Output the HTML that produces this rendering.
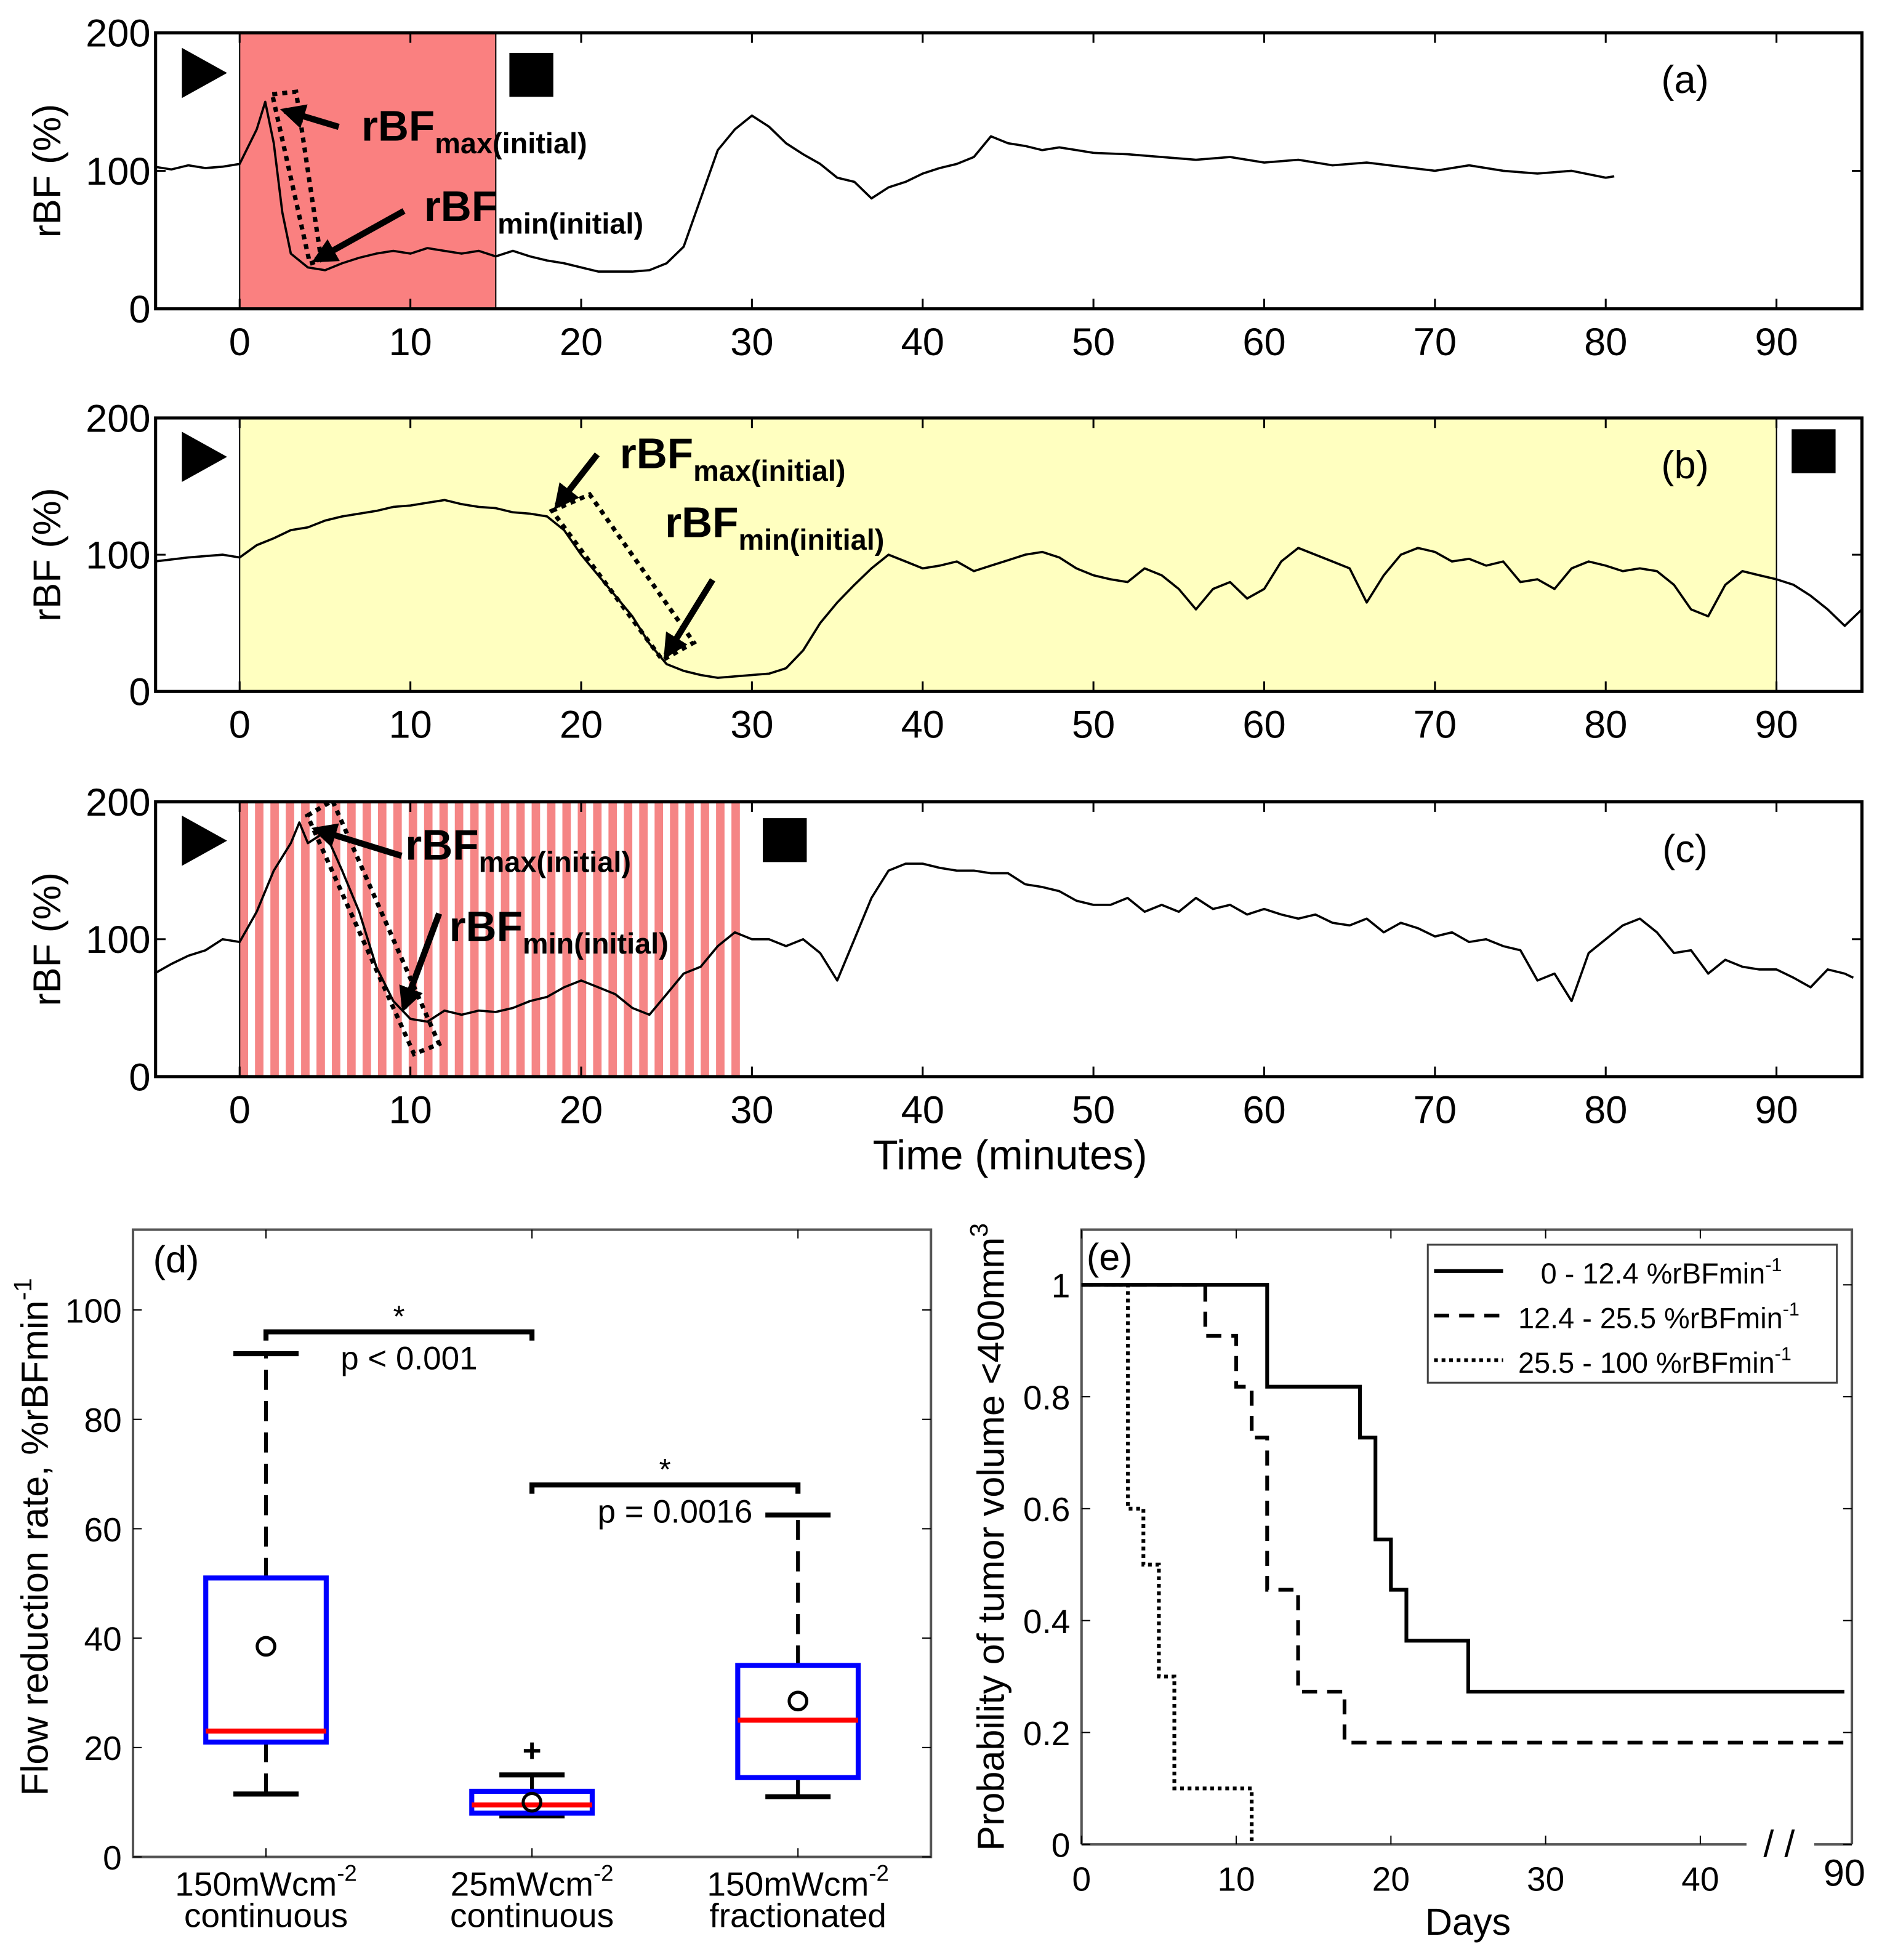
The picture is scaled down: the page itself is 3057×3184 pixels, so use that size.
<!DOCTYPE html>
<html><head><meta charset="utf-8"><style>
html,body{margin:0;padding:0;background:#fff}
svg{display:block}
text{font-family:"Liberation Sans",sans-serif}
.b{font-weight:bold}
</style></head><body>
<svg id="fig" xmlns="http://www.w3.org/2000/svg" width="3057" height="3184" viewBox="0 0 1500 1562">
<g id="root"></g>
</svg>
<script>
// ---------- data ----------
const timeA = [-5,-4,-3,-2,-1,0,1,1.5,2,2.5,3,4,5,6,7,8,9,10,11,12,13,14,15,16,17,18,19,20,21,22,23,24,25,26,27,28,29,30,31,32,33,34,35,36,37,38,39,40,41,42,43,44,45,46,47,48,49,50,52,54,56,58,60,62,64,66,68,70,72,74,76,78,80,80.5];
const rbfA  = [103,101,104,102,103,105,130,150,120,70,40,30,28,33,37,40,42,40,44,42,40,42,38,42,38,35,33,30,27,27,27,28,33,45,80,115,130,140,132,120,112,105,95,92,80,88,92,98,102,105,110,125,120,118,115,117,115,113,112,110,108,110,106,108,104,106,103,100,104,100,98,100,95,96];
const timeB = [-5,-3,-1,0,1,2,3,4,5,6,7,8,9,10,11,12,13,14,15,16,17,18,19,20,21,22,23,24,25,26,27,28,29,30,31,32,33,34,35,36,37,38,39,40,41,42,43,44,45,46,47,48,49,50,51,52,53,54,55,56,57,58,59,60,61,62,63,64,65,66,67,68,69,70,71,72,73,74,75,76,77,78,79,80,81,82,83,84,85,86,87,88,89,90,91,92,93,94,95];
const rbfB  = [95,98,100,98,107,112,118,120,125,128,130,132,135,136,138,140,137,135,134,131,130,128,118,100,85,70,55,35,20,15,12,10,11,12,13,17,30,50,65,78,90,100,95,90,92,95,88,92,96,100,102,98,90,85,82,80,90,85,75,60,75,80,68,75,95,105,100,95,90,65,85,100,105,102,95,97,92,95,80,82,75,90,95,92,88,90,88,78,60,55,78,88,85,82,78,70,60,48,60];
const timeC = [-5,-4,-3,-2,-1,0,1,2,3,3.5,4,5,6,7,8,9,10,11,12,13,14,15,16,17,18,19,20,21,22,23,24,25,26,27,28,29,30,31,32,33,34,35,36,37,38,39,40,41,42,43,44,45,46,47,48,49,50,51,52,53,54,55,56,57,58,59,60,61,62,63,64,65,66,67,68,69,70,71,72,73,74,75,76,77,78,79,80,81,82,83,84,85,86,87,88,89,90,91,92,93,94,94.5];
const rbfC  = [75,82,88,92,100,98,120,150,170,185,170,178,150,120,80,55,42,40,48,45,48,47,50,55,58,65,70,65,60,50,45,60,75,80,95,105,100,100,95,100,90,70,100,130,150,155,155,152,150,150,148,148,140,138,135,128,125,125,130,120,125,120,130,122,125,118,122,118,115,118,112,110,115,105,112,108,102,105,98,100,95,92,70,75,55,90,100,110,115,105,90,92,75,85,80,78,78,72,65,78,75,72];
const timeTicks = [0,10,20,30,40,50,60,70,80,90];
const rbfTicks = [0,100,200];

const boxCats = ["150mWcm","25mWcm","150mWcm"];
const boxSub = ["continuous","continuous","fractionated"];
const boxLo = [11.5,7.5,11];
const boxQ1 = [21,8,14.5];
const boxMed = [23,9.5,25];
const boxQ3 = [51,12,35];
const boxHi = [92,15,62.5];
const boxMean = [38.5,10,28.5];
const boxOutliers = [[],[19.5],[]];
const dTicks = [0,20,40,60,80,100];

const kmSolidT = [0,12,18,19,20,21,25,90];
const kmSolidS = [1,0.818,0.727,0.545,0.455,0.364,0.273,0.273];
const kmDashT = [0,8,10,11,12,14,17,90];
const kmDashS = [1,0.909,0.818,0.727,0.455,0.273,0.182,0.182];
const kmDotT = [0,3,4,5,6,11,11];
const kmDotS = [1,0.6,0.5,0.3,0.1,0,0];
const eYTicks = [0,0.2,0.4,0.6,0.8,1];
const eXTicks = [0,10,20,30,40];

// ---------- helpers ----------
const NS="http://www.w3.org/2000/svg";
const root=document.getElementById('root');
function el(tag,attrs,parent,txt){const e=document.createElementNS(NS,tag);for(const k in attrs)e.setAttribute(k,attrs[k]);if(txt!==undefined)e.textContent=txt;(parent||root).appendChild(e);return e;}

// ---------- time-series panels ----------
const L=124,R=1484;
function tx(t){return 191+(t)*13.61;}
const panels=[
 {top:26,bot:246,t:timeA,v:rbfA,lab:"(a)",name:"panel-a"},
 {top:333,bot:551,t:timeB,v:rbfB,lab:"(b)",name:"panel-b"},
 {top:639,bot:858,t:timeC,v:rbfC,lab:"(c)",name:"panel-c"}];
panels.forEach((p,i)=>{
  const g=el('g',{});
  
  
  const ty=v=>p.bot-v*(p.bot-p.top)/200;
  // shading
  if(i===0){const r=el('rect',{x:tx(0),y:p.top,width:tx(15)-tx(0),height:p.bot-p.top,fill:'#fa8080',stroke:'#000','stroke-width':1},g);
    }
  if(i===1){const r=el('rect',{x:tx(0),y:p.top,width:tx(90)-tx(0),height:p.bot-p.top,fill:'#ffffc0',stroke:'#000','stroke-width':1},g);
    }
  if(i===2){for(let s=0;s<33;s++){const x0=tx(s*0.9);const r=el('rect',{x:x0,y:p.top,width:0.55*0.9*13.61,height:p.bot-p.top,fill:'#f58585'},g);
    }
    el('line',{x1:tx(0),x2:tx(0),y1:p.top,y2:p.bot,stroke:'#000','stroke-width':1},g);}
  // frame
  el('rect',{x:L,y:p.top,width:R-L,height:p.bot-p.top,fill:'none',stroke:'#000','stroke-width':2.5},g);
  // ticks
  timeTicks.forEach(t=>{const x=tx(t);
    el('line',{x1:x,x2:x,y1:p.bot,y2:p.bot-8,stroke:'#000','stroke-width':1.5},g);
    el('line',{x1:x,x2:x,y1:p.top,y2:p.top+8,stroke:'#000','stroke-width':1.5},g);
    const lt=el('text',{x:x,y:p.bot+37,'font-size':31,'text-anchor':'middle'},g,String(t));
    });
  rbfTicks.forEach(v=>{const y=ty(v);
    el('line',{x1:L,x2:L+8,y1:y,y2:y,stroke:'#000','stroke-width':1.5},g);
    el('line',{x1:R,x2:R-8,y1:y,y2:y,stroke:'#000','stroke-width':1.5},g);
    const lt=el('text',{x:120,y:y+11,'font-size':31,'text-anchor':'end'},g,String(v));
    });
  const yl=el('text',{x:0,y:0,'font-size':31,'text-anchor':'middle',transform:`translate(48,${(p.top+p.bot)/2}) rotate(-90)`},g,"rBF (%)");
  
  // trace
  const d=p.t.map((t,k)=>(k?'L':'M')+tx(t).toFixed(1)+','+ty(p.v[k]).toFixed(1)).join('');
  const tr=el('path',{d:d,fill:'none',stroke:'#000','stroke-width':1.8,'stroke-linejoin':'round'},g);
  
  const pl=el('text',{x:1343,y:p.top+48,'font-size':31,'text-anchor':'middle'},g,p.lab);
  
});
function tri(x,y){const e=el('polygon',{points:`${x},${y} ${x+36},${y+20} ${x},${y+40}`,fill:'#000'});}
function sq(x,y){const e=el('rect',{x:x,y:y,width:35,height:35,fill:'#000'});}
tri(145,38);sq(406,42);tri(145,344);sq(1428,342);tri(145,650);sq(608,652);
el('defs',{}).innerHTML='<marker id="ah" viewBox="0 0 10 10" refX="8" refY="5" markerWidth="4" markerHeight="4" orient="auto"><path d="M0,0L10,5L0,10z" fill="#000"/></marker>';
function arrow(x1,y1,x2,y2){const e=el('line',{x1,y1,x2,y2,stroke:'#000','stroke-width':5,'marker-end':'url(#ah)'});}
function dotbox(pts){const e=el('polygon',{points:pts,fill:'none',stroke:'#000','stroke-width':3.5,'stroke-dasharray':'4,4'});}
function lab(x,y,sub){const t=el('text',{x,y,'font-size':34,'font-weight':'bold'});
  el('tspan',{},t,'rBF');el('tspan',{'font-size':23,dy:10},t,sub);}
dotbox("217,75 236,73 256,207 247,210");arrow(270,101,227,88);lab(288,112,'max(initial)');arrow(322,168,252,207);lab(338,176,'min(initial)');
dotbox("440,407 470,394 553,512 528,526");arrow(476,362,444,403);lab(494,373,'max(initial)');arrow(568,462,531,522);lab(530,428,'min(initial)');
dotbox("245,650 265,638 350,832 330,840");arrow(320,682,252,661);lab(323,685,'max(initial)');arrow(350,728,322,803);lab(358,750,'min(initial)');
const tl=el('text',{x:805,y:932,'font-size':33,'text-anchor':'middle'},root,"Time (minutes)");


// ---------- panel d ----------
(function(){
 const g=el('g',{});
 const x0=106,x1=742,yT=980,yB=1480;
 const dx=c=>x0+(c+0.5)*212, dy=v=>yB-v*4.36;
 el('rect',{x:x0,y:yT,width:x1-x0,height:yB-yT,fill:'none',stroke:'#555','stroke-width':2},g);
 dTicks.forEach(v=>{const y=dy(v);el('line',{x1:x0,x2:x0+7,y1:y,y2:y,stroke:'#000'},g);el('line',{x1:x1,x2:x1-7,y1:y,y2:y,stroke:'#000'},g);
   const t=el('text',{x:97,y:y+10,'font-size':27,'text-anchor':'end'},g,String(v));});
 boxCats.forEach((c,i)=>{const x=dx(i);
   el('line',{x1:x,x2:x,y1:yB,y2:yB-7,stroke:'#000'},g);el('line',{x1:x,x2:x,y1:yT,y2:yT+7,stroke:'#000'},g);
   const t=el('text',{x:x,y:1511,'font-size':27,'text-anchor':'middle'},g);
   el('tspan',{},t,c);el('tspan',{'font-size':18,dy:-12},t,'-2');
   const t2=el('text',{x:x,y:1536,'font-size':27,'text-anchor':'middle'},g,boxSub[i]);
   const hw=48;
   const w1=el('line',{x1:x,x2:x,y1:dy(boxQ3[i]),y2:dy(boxHi[i]),stroke:'#000','stroke-width':3,'stroke-dasharray':'16,9'},g);
   const w2=el('line',{x1:x,x2:x,y1:dy(boxQ1[i]),y2:dy(boxLo[i]),stroke:'#000','stroke-width':3,'stroke-dasharray':'16,9'},g);
   [boxHi[i],boxLo[i]].forEach(v=>{const cp=el('line',{x1:x-26,x2:x+26,y1:dy(v),y2:dy(v),stroke:'#000','stroke-width':4},g);});
   const bx=el('rect',{x:x-hw,y:dy(boxQ3[i]),width:2*hw,height:dy(boxQ1[i])-dy(boxQ3[i]),fill:'none',stroke:'#0000ff','stroke-width':4},g);
   const md=el('line',{x1:x-hw,x2:x+hw,y1:dy(boxMed[i]),y2:dy(boxMed[i]),stroke:'#ff0000','stroke-width':4},g);
   const mn=el('ellipse',{cx:x,cy:dy(boxMean[i]),rx:7,ry:7,fill:'none',stroke:'#000','stroke-width':2.5},g);
   boxOutliers[i].forEach(v=>{const o=el('text',{x:x,y:dy(v)+9,'font-size':26,'font-weight':'bold','text-anchor':'middle'},g,'+');});
 });
 function bracket(a,b,v,star,pt){const y=dy(v);const e=el('path',{d:`M${dx(a)},${y+7}V${y}H${dx(b)}V${y+7}`,fill:'none',stroke:'#000','stroke-width':4},g);
   const s=el('text',{x:(dx(a)+dx(b))/2,y:y-4,'font-size':24,'text-anchor':'middle'},g,'*');
   const p=el('text',{x:(dx(a)+dx(b))/2+8,y:y+30,'font-size':26,'text-anchor':'middle'},g,pt);}
 bracket(0,1,96,'*','p < 0.001');bracket(1,2,68,'*','p = 0.0016');
 const pl=el('text',{x:122,y:1014,'font-size':30},g,'(d)');
 const yl=el('text',{'font-size':30,'text-anchor':'middle',transform:'translate(38,1225) rotate(-90)'},g);
 el('tspan',{},yl,'Flow reduction rate, %rBFmin');el('tspan',{'font-size':20,dy:-13},yl,'-1');
})();

// ---------- panel e ----------
(function(){
 const g=el('g',{});
 const x0=862,x1=1476,yT=980,yB=1470;
 const ex=t=>t<=45?x0+t*12.33:1470, ey=s=>yB-s*446;
 el('path',{d:`M${x0},${yB}V${yT}H${x1}V${yB}`,fill:'none',stroke:'#555','stroke-width':2},g);
 el('line',{x1:x0,x2:1392,y1:yB,y2:yB,stroke:'#555','stroke-width':2},g);
 el('line',{x1:1446,x2:x1,y1:yB,y2:yB,stroke:'#555','stroke-width':2},g);
 const br=el('text',{x:1418,y:yB+10,'font-size':30,'text-anchor':'middle'},g,'/ /');
 eYTicks.forEach(v=>{const y=ey(v);el('line',{x1:x0,x2:x0+7,y1:y,y2:y,stroke:'#000'},g);el('line',{x1:x1,x2:x1-7,y1:y,y2:y,stroke:'#000'},g);
   const t=el('text',{x:853,y:y+10,'font-size':27,'text-anchor':'end'},g,String(v));});
 eXTicks.forEach(v=>{const x=ex(v);el('line',{x1:x,x2:x,y1:yB,y2:yB-7,stroke:'#000'},g);el('line',{x1:x,x2:x,y1:yT,y2:yT+7,stroke:'#000'},g);
   const t=el('text',{x:x,y:1507,'font-size':27,'text-anchor':'middle'},g,String(v));});
 const t90=el('text',{x:1470,y:1503,'font-size':30,'text-anchor':'middle'},g,'90');
 function step(T,S,dash,w){let d=`M${ex(T[0])},${ey(S[0])}`;for(let k=1;k<T.length;k++){d+=`H${ex(T[k])}V${ey(S[k])}`;}
   const p=el('path',{d:d,fill:'none',stroke:'#000','stroke-width':w,'stroke-dasharray':dash},g);}
 step(kmSolidT,kmSolidS,'none',3);step(kmDashT,kmDashS,'12,8',3);step(kmDotT,kmDotS,'3,3',3);
 const lg=el('g',{},g);
 el('rect',{x:1138,y:992,width:326,height:110,fill:'#fff',stroke:'#444','stroke-width':1.5},lg);
 [['none','0 - 12.4 %rBFmin',1228],['12,8','12.4 - 25.5 %rBFmin',1210],['3,3','25.5 - 100 %rBFmin',1210]].forEach((r,k)=>{const y=1013+k*35.5;
   const le=el('g',{},lg);
   el('line',{x1:1143,x2:1198,y1:y,y2:y,stroke:'#000','stroke-width':3,'stroke-dasharray':r[0]},le);
   const t=el('text',{x:r[2],y:y+10,'font-size':23},le);el('tspan',{},t,r[1]);el('tspan',{'font-size':15,dy:-10},t,'-1');});
 const pl=el('text',{x:866,y:1012,'font-size':30},g,'(e)');
 const xl=el('text',{x:1170,y:1542,'font-size':30,'text-anchor':'middle'},g,'Days');
 const yl=el('text',{'font-size':30,'text-anchor':'middle',transform:'translate(800,1225) rotate(-90)'},g);
 el('tspan',{},yl,'Probability of tumor volume <400mm');el('tspan',{'font-size':20,dy:-13},yl,'3');
})();
</script>
</body></html>
